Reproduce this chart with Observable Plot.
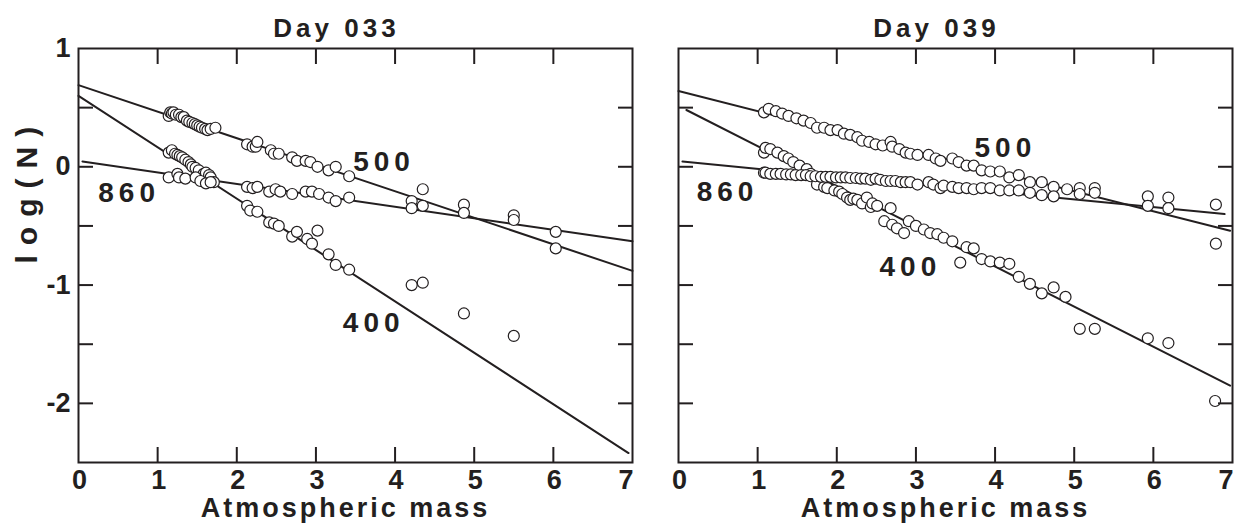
<!DOCTYPE html>
<html><head><meta charset="utf-8">
<script src="https://cdn.jsdelivr.net/npm/d3@7"></script>
<script src="https://cdn.jsdelivr.net/npm/@observablehq/plot@0.6"></script>
<style>
body{margin:0;background:#fff;}
#wrap{position:relative;width:1236px;height:529px;background:#fff;overflow:hidden;}
#wrap > svg{position:absolute;top:0;}
</style></head><body><div id="wrap"></div>
<script>
// ---------- data ----------
const panelTitles = ["Day 033", "Day 039"];
const xLabel = "Atmospheric mass";
const yLabel = "log(N)";
const xTickLabels = [0, 1, 2, 3, 4, 5, 6];
const xLastLabel = [7];
const xTickMarks = [1, 2, 3, 4, 5, 6];
const yTickLabels = [-2, -1, 0, 1];
const yTickMarks = [-2, -1.5, -1, -0.5, 0, 0.5];
const seriesNames = ["500", "400", "860"];

// Day 033 observations [atmospheric mass, log(N)]
const d033_500 = [[1.14,0.43],[1.16,0.46],[1.18,0.45],[1.20,0.46],[1.23,0.44],[1.27,0.44],[1.30,0.42],[1.33,0.42],[1.37,0.39],[1.40,0.38],[1.44,0.37],[1.47,0.36],[1.50,0.35],[1.53,0.34],[1.56,0.33],[1.60,0.32],[1.63,0.31],[1.67,0.32],[1.73,0.33],
  [2.13,0.19],[2.20,0.17],[2.24,0.17],[2.26,0.21],[2.43,0.14],[2.47,0.11],[2.53,0.11],[2.70,0.08],[2.76,0.05],[2.87,0.05],[2.93,0.04],[3.02,0.00],[3.16,-0.03],[3.25,0.00],[3.42,-0.08],
  [4.21,-0.29],[4.35,-0.19],[4.87,-0.32],[5.50,-0.41],[6.03,-0.69]];
const d033_400 = [[1.14,0.12],[1.18,0.14],[1.22,0.11],[1.25,0.10],[1.28,0.09],[1.31,0.08],[1.35,0.06],[1.39,0.04],[1.42,0.02],[1.44,0.00],[1.48,-0.01],[1.52,-0.03],[1.58,-0.06],[1.61,-0.05],[1.65,-0.07],[1.67,-0.09],[1.71,-0.13],
  [2.13,-0.33],[2.17,-0.37],[2.26,-0.38],[2.41,-0.47],[2.47,-0.48],[2.53,-0.50],[2.70,-0.59],[2.76,-0.55],[2.89,-0.61],[2.95,-0.65],[3.02,-0.54],[3.16,-0.74],[3.25,-0.83],[3.42,-0.87],
  [4.21,-1.00],[4.35,-0.98],[4.87,-1.24],[5.50,-1.43]];
const d033_860 = [[1.14,-0.09],[1.25,-0.06],[1.27,-0.09],[1.35,-0.10],[1.48,-0.09],[1.54,-0.12],[1.61,-0.14],[1.67,-0.13],
  [2.13,-0.17],[2.20,-0.18],[2.26,-0.17],[2.41,-0.21],[2.49,-0.19],[2.55,-0.21],[2.70,-0.23],[2.87,-0.21],[2.95,-0.21],[3.04,-0.23],[3.16,-0.26],[3.25,-0.29],[3.42,-0.26],
  [4.21,-0.35],[4.35,-0.33],[4.87,-0.39],[5.50,-0.45],[6.03,-0.55]];

// Day 039 observations
const d039_500 = [[1.08,0.46],[1.14,0.49],[1.23,0.47],[1.31,0.45],[1.39,0.43],[1.49,0.41],[1.58,0.39],[1.67,0.37],[1.75,0.33],[1.84,0.33],[1.92,0.31],[2.01,0.31],[2.09,0.28],[2.17,0.27],[2.26,0.25],[2.32,0.22],[2.41,0.21],[2.49,0.19],[2.58,0.18],[2.68,0.21],[2.70,0.17],[2.79,0.15],[2.87,0.12],[2.93,0.11],[3.02,0.10],[3.16,0.10],[3.25,0.07],[3.31,0.05],[3.46,0.07],[3.54,0.04],[3.64,0.01],[3.73,0.01],[3.83,-0.03],[3.94,-0.04],[4.06,-0.04],[4.18,-0.09],[4.30,-0.07],[4.44,-0.13],[4.59,-0.13],[4.74,-0.17],[4.91,-0.19],[5.07,-0.18],[5.26,-0.18],[5.93,-0.25],[6.19,-0.26],[6.79,-0.65]];
const d039_400 = [[1.08,0.12],[1.10,0.16],[1.16,0.15],[1.25,0.12],[1.33,0.09],[1.39,0.07],[1.45,0.04],[1.53,0.01],[1.62,-0.02],[1.67,-0.06],[1.75,-0.15],[1.84,-0.17],[1.88,-0.18],[1.97,-0.20],[2.03,-0.21],[2.07,-0.23],[2.13,-0.26],[2.17,-0.28],[2.21,-0.27],[2.26,-0.28],[2.32,-0.31],[2.38,-0.26],[2.43,-0.34],[2.45,-0.31],[2.51,-0.33],[2.60,-0.46],[2.68,-0.35],[2.70,-0.49],[2.76,-0.52],[2.85,-0.56],[2.91,-0.46],[3.00,-0.50],[3.10,-0.53],[3.18,-0.56],[3.27,-0.57],[3.35,-0.60],[3.46,-0.63],[3.56,-0.81],[3.64,-0.68],[3.73,-0.69],[3.83,-0.78],[3.94,-0.80],[4.06,-0.81],[4.18,-0.82],[4.30,-0.93],[4.44,-0.99],[4.59,-1.07],[4.74,-1.02],[4.89,-1.10],[5.07,-1.37],[5.26,-1.37],[5.93,-1.45],[6.19,-1.49],[6.78,-1.98]];
const d039_860 = [[1.08,-0.05],[1.10,-0.05],[1.16,-0.06],[1.23,-0.06],[1.29,-0.06],[1.36,-0.065],[1.42,-0.065],[1.48,-0.07],[1.55,-0.07],[1.61,-0.07],[1.67,-0.08],[1.73,-0.08],[1.80,-0.085],[1.86,-0.085],[1.92,-0.085],[1.99,-0.09],[2.05,-0.09],[2.11,-0.09],[2.17,-0.095],[2.24,-0.095],[2.30,-0.10],[2.36,-0.10],[2.43,-0.11],[2.49,-0.10],[2.55,-0.11],[2.62,-0.12],[2.68,-0.12],[2.74,-0.12],[2.81,-0.13],[2.87,-0.13],[2.93,-0.13],[3.02,-0.15],[3.16,-0.13],[3.22,-0.15],[3.31,-0.18],[3.35,-0.16],[3.46,-0.17],[3.54,-0.18],[3.64,-0.18],[3.73,-0.19],[3.83,-0.18],[3.94,-0.18],[4.06,-0.20],[4.18,-0.20],[4.30,-0.20],[4.44,-0.22],[4.59,-0.24],[4.74,-0.25],[5.07,-0.23],[5.26,-0.22],[5.93,-0.33],[6.19,-0.35],[6.79,-0.32]];

// fitted lines: [x start, y start, x end, y end]
const fit033_500 = [0, 0.69, 7, -0.88];
const fit033_400 = [0, 0.60, 6.95, -2.42];
const fit033_860 = [0.05, 0.045, 7, -0.63];
const fit039_500 = [0, 0.64, 6.97, -0.54];
const fit039_400 = [0.1, 0.48, 6.97, -1.85];
const fit039_860 = [0.05, 0.045, 6.9, -0.40];

// series label anchors [x, y] in data units (500, 400, 860)
const lab033 = [[3.86, 0.04], [3.73, -1.32], [0.64, -0.22]];
const lab039 = [[4.13, 0.16], [2.93, -0.85], [0.62, -0.21]];

// ---------- drawing ----------
const ink = "#231f20";
const FONT = "'Liberation Sans', Arial, Helvetica, sans-serif";

function panel({title, series, fits, labels, showYLabels, left, width, marginLeft}) {
  const pts = series.flatMap(s => s.map(([x, y]) => ({x, y})));
  const fitData = fits.map(([x1, y1, x2, y2]) => [{x: x1, y: y1}, {x: x2, y: y2}]);
  const labData = labels.map(([x, y], i) => ({x, y, t: seriesNames[i]}));
  const marks = [
    ...fitData.map(d => Plot.line(d, {x: "x", y: "y", stroke: ink, strokeWidth: 2})),
    Plot.dot(pts, {x: "x", y: "y", r: 5.5, fill: "white", stroke: ink, strokeWidth: 1.2}),
    Plot.text(labData, {x: "x", y: "y", text: "t", fontSize: 28, fontWeight: "bold", fill: ink}),
    Plot.axisX(xTickMarks, {anchor: "bottom", tickSize: -15, fill: "none", stroke: ink, strokeWidth: 2}),
    Plot.axisX(xTickMarks, {anchor: "top", tickSize: -15, fill: "none", stroke: ink, strokeWidth: 2}),
    Plot.axisY(yTickMarks, {anchor: "left", tickSize: -15, fill: "none", stroke: ink, strokeWidth: 2}),
    Plot.axisY(yTickMarks, {anchor: "right", tickSize: -15, fill: "none", stroke: ink, strokeWidth: 2}),
    Plot.axisX(xTickLabels, {anchor: "bottom", tickSize: 0, tickPadding: 7, dx: 1, label: null, tickFormat: d => String(d), fontSize: 27, fontWeight: "bold", fill: ink}),
    Plot.axisX(xLastLabel, {anchor: "bottom", tickSize: 0, tickPadding: 7, dx: 1, textAnchor: "end", label: null, tickFormat: d => String(d), fontSize: 27, fontWeight: "bold", fill: ink}),
    Plot.frame({stroke: ink, strokeWidth: 2}),
    Plot.text([title], {frameAnchor: "top", dy: -20, dx: -19, lineAnchor: "middle", fontSize: 26, fontWeight: "bold", fill: ink}),
    Plot.text([xLabel], {frameAnchor: "bottom", dy: 46, dx: -10, lineAnchor: "middle", fontSize: 27, fontWeight: "bold", fill: ink})
  ];
  if (showYLabels) {
    marks.push(Plot.axisY(yTickLabels, {anchor: "left", tickSize: 0, tickPadding: 8, label: null, tickFormat: d => String(d), fontSize: 27, fontWeight: "bold", fill: ink}));
    marks.push(Plot.text([yLabel], {frameAnchor: "left", dx: -51, dy: 8, rotate: -90, textAnchor: "start", lineAnchor: "middle", fontSize: 30, fontWeight: "bold", fill: ink}));
  }
  const svg = Plot.plot({
    width, height: 529,
    marginLeft, marginRight: 4, marginTop: 48, marginBottom: 67,
    x: {domain: [0, 7]},
    y: {domain: [-2.5, 1]},
    style: {fontFamily: FONT, color: ink, background: "white", overflow: "visible"},
    marks
  });
  // letter spacing of the spaced-out labels
  const spacing = new Map([[title, 4], [xLabel, 3], [yLabel, 10], ...seriesNames.map(n => [n, 5])]);
  svg.querySelectorAll("text").forEach(t => {
    const s = spacing.get(t.textContent);
    if (s) t.style.letterSpacing = s + "px";
  });
  svg.style.left = left + "px";
  return svg;
}

const wrap = document.getElementById("wrap");
wrap.appendChild(panel({title: panelTitles[0], series: [d033_500, d033_400, d033_860], fits: [fit033_500, fit033_400, fit033_860], labels: lab033, showYLabels: true, left: 0, width: 636, marginLeft: 78}));
wrap.appendChild(panel({title: panelTitles[1], series: [d039_500, d039_400, d039_860], fits: [fit039_500, fit039_400, fit039_860], labels: lab039, showYLabels: false, left: 636, width: 600, marginLeft: 42}));
</script>
</body></html>
